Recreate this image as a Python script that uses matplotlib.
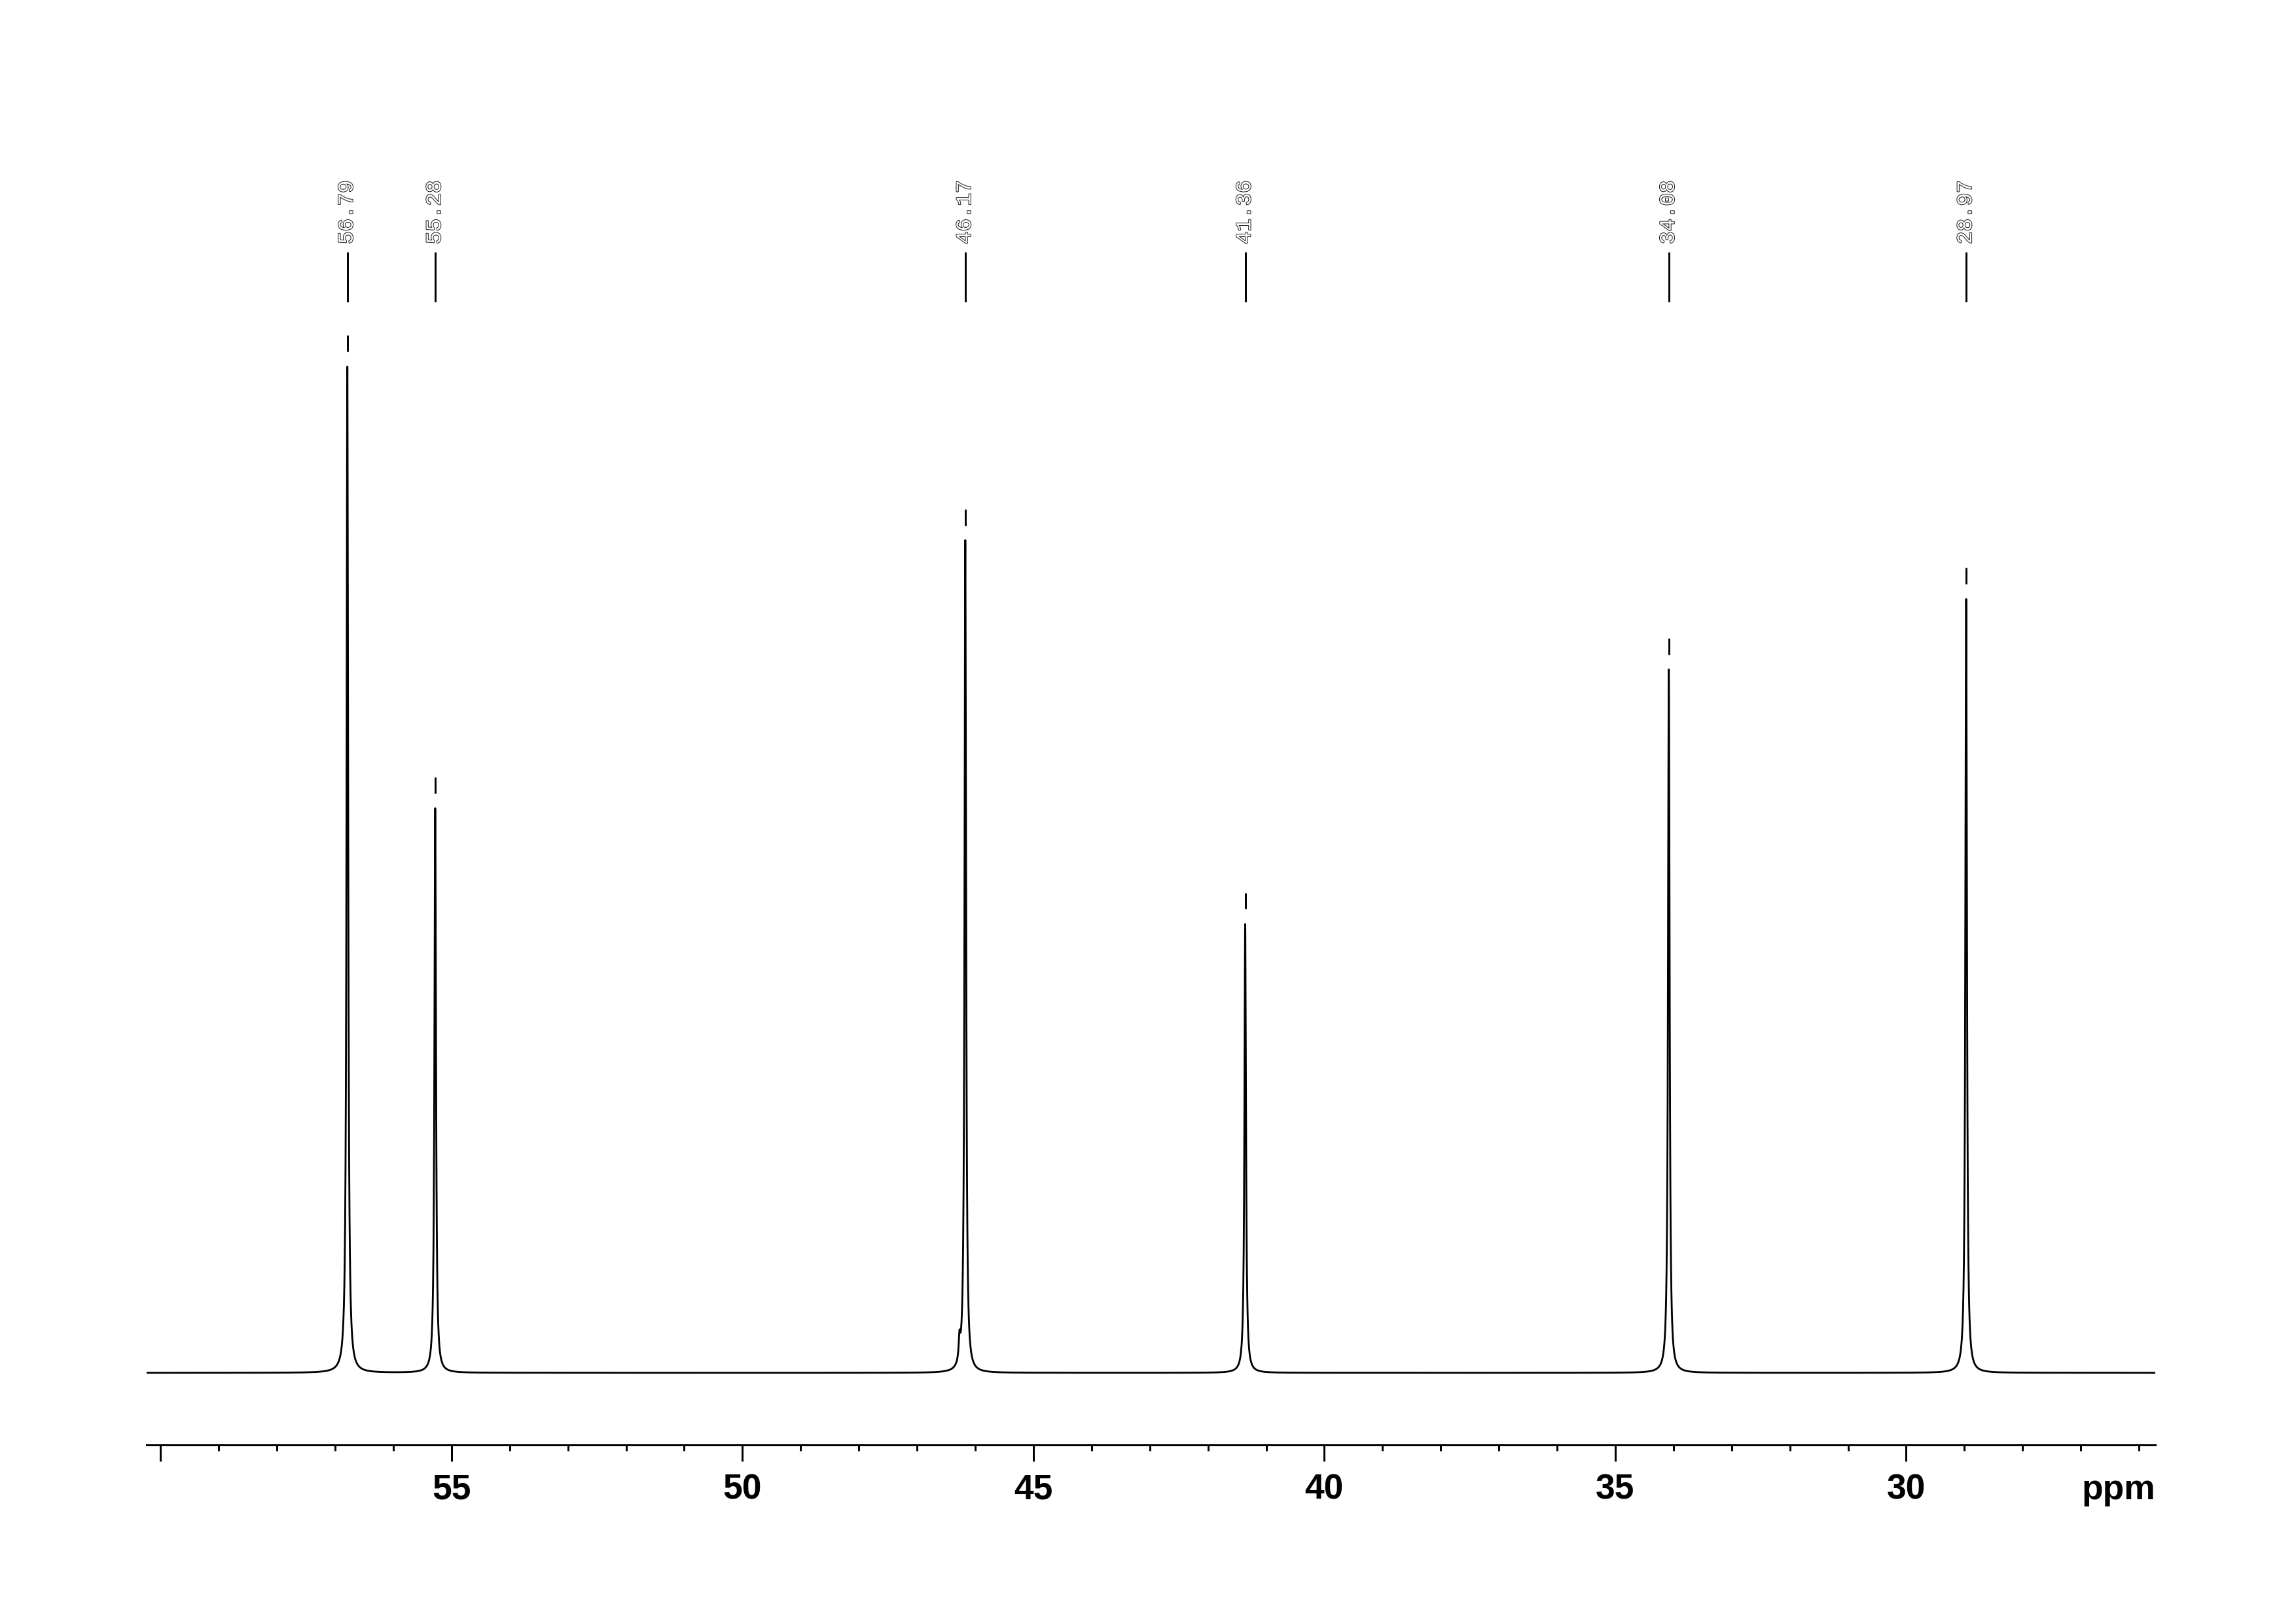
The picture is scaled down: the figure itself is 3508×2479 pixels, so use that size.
import numpy as np
import matplotlib
matplotlib.use("Agg")
import matplotlib.pyplot as plt
import matplotlib.patheffects as pe

# peak picking list (ppm) and peak heights relative to tallest peak
shifts = [56.79, 55.28, 46.17, 41.36, 34.08, 28.97]
heights = [1.000, 0.561, 0.827, 0.446, 0.699, 0.769]
# small shoulder next to the 46.17 peak
shoulder_ppm = [46.27]
shoulder_h = [0.022]

major_ticks = [60, 55, 50, 45, 40, 35, 30]
major_labels = ["", "55", "50", "45", "40", "35", "30"]
minor_ticks = list(range(26, 61))

hw = 0.016  # half width at half height, ppm

x = np.linspace(25.72, 60.24, 40000)
x = np.union1d(x, shifts)
y = np.zeros_like(x)
for p, h in zip(shifts + shoulder_ppm, heights + shoulder_h):
    y += h * hw**2 / ((x - p)**2 + hw**2)

W, H = 3508, 2479
fig = plt.figure(figsize=(W / 300, H / 300), dpi=300)
left, right = 224, 3293
top, bottom = 100, 2207
ax = fig.add_axes([left / W, 1 - bottom / H, (right - left) / W, (bottom - top) / H])

ax.plot(x, y, color="black", lw=0.68)
ax.set_xlim(60.24, 25.72)
ax.set_ylim(-0.0716, 1.2993)

# peak markers above each peak top
for p, h in zip(shifts, heights):
    ax.plot([p, p], [h + 0.015, h + 0.031], color="black", lw=0.7, solid_capstyle="butt")
    ax.plot([p, p], [1.0644, 1.1139], color="black", lw=0.7, solid_capstyle="butt")
    ax.text(p, 1.1217, "%.2f" % p, rotation=90, ha="center", va="bottom",
            family="Liberation Mono", fontsize=7.8, color="white",
            path_effects=[pe.Stroke(linewidth=0.5, foreground="#222222"), pe.Normal()])

for s in ["top", "left", "right"]:
    ax.spines[s].set_visible(False)
ax.spines["bottom"].set_linewidth(0.72)
ax.set_yticks([])
ax.set_xticks(major_ticks, labels=major_labels)
ax.set_xticks(minor_ticks, minor=True)
ax.tick_params(axis="x", which="major", direction="out", length=6, width=0.72, pad=4.5)
ax.tick_params(axis="x", which="minor", direction="out", length=2.2, width=0.72)
for lab in ax.get_xticklabels():
    lab.set_fontfamily("Liberation Sans")
    lab.set_fontweight("bold")
    lab.set_fontsize(12.8)

fig.text(right / W, 1 - 2290 / H, "ppm", ha="right", va="baseline",
         family="Liberation Sans", fontweight="bold", fontsize=12.8)

fig.savefig("out.png", dpi=300)
